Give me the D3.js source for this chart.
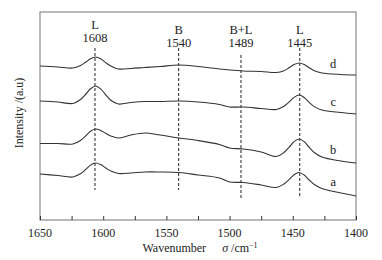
<!DOCTYPE html>
<html><head><meta charset="utf-8">
<script src="https://cdn.jsdelivr.net/npm/d3@7"></script>
<style>body{margin:0;background:#fff}svg{display:block}text{fill:#222}</style>
</head><body><svg id="c" width="382" height="260" font-family="'Liberation Serif', 'DejaVu Serif', serif"></svg>
<script>
const wavenumbers = [1650,1636,1624,1618,1614,1610,1606,1602,1598,1594,1588,1578,1567,1555,1540,1525,1508,1500,1489,1475,1463,1457,1453,1449,1445,1441,1437,1433,1427,1412,1400];
const seriesD = [1.54,1.53,1.52,1.545,1.577,1.613,1.63,1.613,1.574,1.539,1.51,1.515,1.525,1.535,1.55,1.535,1.51,1.50,1.49,1.485,1.475,1.493,1.522,1.555,1.57,1.555,1.522,1.493,1.47,1.455,1.45];
const seriesC = [1.19,1.18,1.165,1.205,1.255,1.312,1.34,1.311,1.252,1.198,1.16,1.175,1.185,1.185,1.19,1.18,1.155,1.13,1.13,1.115,1.105,1.138,1.179,1.226,1.25,1.225,1.176,1.134,1.10,1.075,1.06];
const seriesB = [0.765,0.765,0.76,0.795,0.838,0.888,0.91,0.896,0.867,0.841,0.82,0.85,0.87,0.85,0.82,0.795,0.755,0.72,0.71,0.68,0.635,0.675,0.726,0.784,0.81,0.784,0.726,0.675,0.63,0.59,0.57];
const seriesA = [0.46,0.445,0.43,0.462,0.503,0.549,0.57,0.554,0.52,0.489,0.465,0.47,0.48,0.48,0.475,0.45,0.42,0.38,0.375,0.35,0.325,0.36,0.403,0.453,0.475,0.45,0.40,0.355,0.315,0.27,0.24];
const seriesNames = ["a","b","c","d"];
const xTicks = [1650,1625,1600,1575,1550,1525,1500,1475,1450,1425,1400];
const xTickLabels = [1650,1600,1550,1500,1450,1400];
const bandLabels = [1608,1540,1489,1445];
const bandDrawnAt = [1606.5,1540.3,1491,1444.5];
const bandNames = ["L","B","B+L","L"];

const svg = d3.select("#c");
const L=40,R=356,T=12,B=220;
const x = d3.scaleLinear().domain([1650,1400]).range([L,R]);
const y = d3.scaleLinear().domain([0,2.08]).range([B,T]);

// frame
svg.append("rect").attr("x",L).attr("y",T).attr("width",R-L).attr("height",B-T)
  .attr("fill","none").attr("stroke","#8a8a8a").attr("stroke-width",1.2);

// ticks inward
const ax = svg.append("g").attr("transform",`translate(0,${B})`)
  .call(d3.axisBottom(x).tickValues(xTicks).tickSizeInner(-4).tickSizeOuter(0).tickFormat(""));
ax.select(".domain").remove();
ax.selectAll("line").attr("stroke","#333");
svg.selectAll(".tl").data(xTickLabels).enter().append("text")
  .attr("x",d=>x(d)).attr("y",237).attr("text-anchor","middle").attr("font-size",12).text(d=>d);

// axis titles
const tt = svg.append("text").attr("x",200).attr("y",252).attr("text-anchor","middle").attr("font-size",12);
tt.append("tspan").text("Wavenumber");
tt.append("tspan").attr("dx",16).attr("font-style","italic").text("σ");
tt.append("tspan").text(" /cm");
tt.append("tspan").attr("dy",-4).attr("font-size",8).text("−1");
svg.append("text").attr("transform","translate(23,113) rotate(-90)").attr("text-anchor","middle")
  .attr("font-size",12).text("Intensity /(a.u)");

// dashed band lines
const bandTop = [48,48,55,48], bandBot=[190,190,198,198];
const labelShift=[0,5,5,5];
bandDrawnAt.forEach((w,i)=>{
  svg.append("line").attr("x1",x(w)).attr("x2",x(w)).attr("y1",bandTop[i]).attr("y2",bandBot[i])
    .attr("stroke","#222").attr("stroke-width",1).attr("stroke-dasharray","3,2");
  svg.append("text").attr("x",x(w)).attr("y",29+labelShift[i]).attr("text-anchor","middle").attr("font-size",12.5).text(bandNames[i]);
  svg.append("text").attr("x",x(w)).attr("y",42+labelShift[i]).attr("text-anchor","middle").attr("font-size",12.5).text(bandLabels[i]);
});

// curves
const all = [seriesA,seriesB,seriesC,seriesD];
const line = d3.line().x((d,i)=>x(wavenumbers[i])).y(d=>y(d)).curve(d3.curveCatmullRom.alpha(0.5));
all.forEach((s,k)=>{
  svg.append("path").attr("d",line(s)).attr("fill","none").attr("stroke","#333").attr("stroke-width",1.1);
  const idx = wavenumbers.indexOf(1412);
  svg.append("text").attr("x",x(1418)).attr("y",y(s[idx])-7).attr("text-anchor","middle").attr("font-size",12.5).text(seriesNames[k]);
});
</script></body></html>
